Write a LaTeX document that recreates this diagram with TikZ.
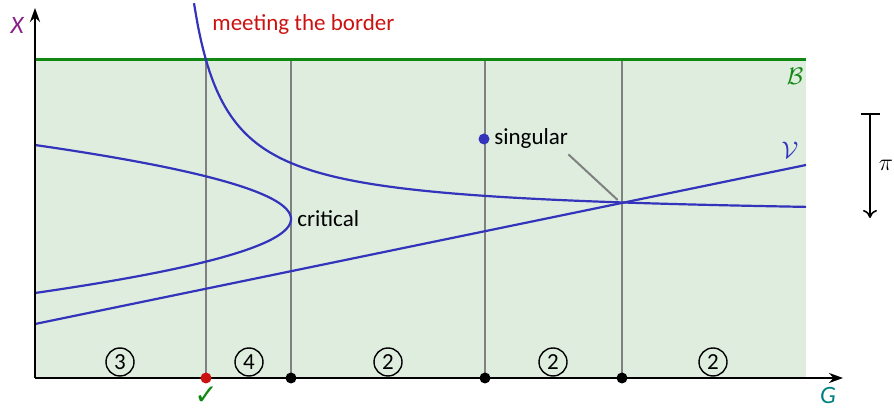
\documentclass[tikz,border=0pt]{standalone}
\usepackage{fontspec}
\setmainfont{Carlito}
\newfontfamily\symfont{DejaVu Sans}
\usetikzlibrary{arrows.meta}
\definecolor{curveblue}{RGB}{51,51,187}
\definecolor{bordergreen}{RGB}{17,136,17}
\definecolor{regionfill}{RGB}{222,237,222}
\definecolor{linegray}{RGB}{128,128,128}
\definecolor{borderred}{RGB}{204,17,17}
\definecolor{axispurple}{RGB}{136,34,136}
\definecolor{axisteal}{RGB}{0,128,128}
\tikzset{
  axisline/.style={line width=1.2pt,-{Stealth[length=7pt,width=5pt]}},
  curve/.style={curveblue,line width=1.1pt},
  fibre/.style={linegray,line width=1pt},
  countbox/.style={circle,draw,line width=0.7pt,minimum size=14pt,inner sep=0pt,font=\fontsize{11.5}{13}\selectfont},
  txt/.style={font=\fontsize{11.5}{13}\selectfont,inner sep=0pt},
  dotmark/.style={circle,fill,inner sep=0pt,minimum size=5.5pt}
}
\begin{document}
\begin{tikzpicture}[x=0.5pt,y=-0.5pt]
\useasboundingbox (0,0) rectangle (894,410);
% region
\fill[regionfill] (35,60) rectangle (806,378);
\coordinate (O) at (35,378);
\coordinate (xend) at (843,378);
\coordinate (yend) at (35,8);
\coordinate (Btl) at (35,60);
\coordinate (Btr) at (806,60);
% vertical fibres
\foreach \x/\n in {206/a,291/b,485/c,622/d}{
  \coordinate (top\n) at (\x,60);
  \coordinate (bot\n) at (\x,378);
  \draw[fibre] (top\n) -- (bot\n);
}
% border
\draw[bordergreen,line width=1.5pt] (Btl) -- (Btr);
% curves
\draw[curve] plot[domain=194:806,samples=160,smooth] (\x,{218-7173/(\x-160.6)});
\draw[curve] plot[domain=-74:74,samples=80,smooth,variable=\t] ({291-0.04675*(\t)*(\t)},{219+\t});
\coordinate (L1) at (35,324);
\coordinate (L2) at (806,165);
\draw[curve] (L1) -- (L2);
% axes
\draw[axisline] (O) -- (xend);
\draw[axisline] (O) -- (yend);
% dots on axis
\node[dotmark,fill=borderred] (da) at (206,378) {};
\node[dotmark] (db) at (291,378) {};
\node[dotmark] (dc) at (485,378) {};
\node[dotmark] (dd) at (622,378) {};
% singular point
\node[dotmark,fill=curveblue] (sp) at (484,139) {};
\node[txt,anchor=west] (sing) at (494,138) {singular};
\coordinate (P) at (622,204);
\draw[linegray,line width=1pt,shorten >=3pt] ([xshift=0pt,yshift=-3pt]sing.south east) -- (P);
% labels
\node[txt,anchor=west] (crit) at (297,219) {critical};
\node[txt,anchor=west,text=borderred] (meet) at (212,25) {meeting the border};
\node[txt,text=axispurple,font=\fontsize{12.5}{14}\selectfont\itshape] (xl) at (17,25) {X};
\node[txt,text=axisteal,font=\fontsize{12.5}{14}\selectfont\itshape] (gl) at (828,395) {G};
\node[txt,text=bordergreen] (bl) at (795,76) {$\mathcal{B}$};
\node[txt,text=curveblue] (vl) at (790,150) {$\mathcal{V}$};
\node[txt,text=bordergreen,font=\fontsize{14}{15}\selectfont\symfont] (ck) at (206,396) {✓};
% counts
\node[countbox] (c1) at (120,362) {3};
\node[countbox] (c2) at (249,362) {4};
\node[countbox] (c3) at (388,362) {2};
\node[countbox] (c4) at (553,362) {2};
\node[countbox] (c5) at (713,362) {2};
% projection arrow
\coordinate (pt) at (870,113);
\coordinate (pb) at (870,218);
\draw[line width=0.8pt,{Bar[width=9.5pt]}-{To[length=4pt,width=7pt]}] (pt) -- (pb);
\node[txt] (pil) at (886,165) {$\pi$};
\end{tikzpicture}
\end{document}
